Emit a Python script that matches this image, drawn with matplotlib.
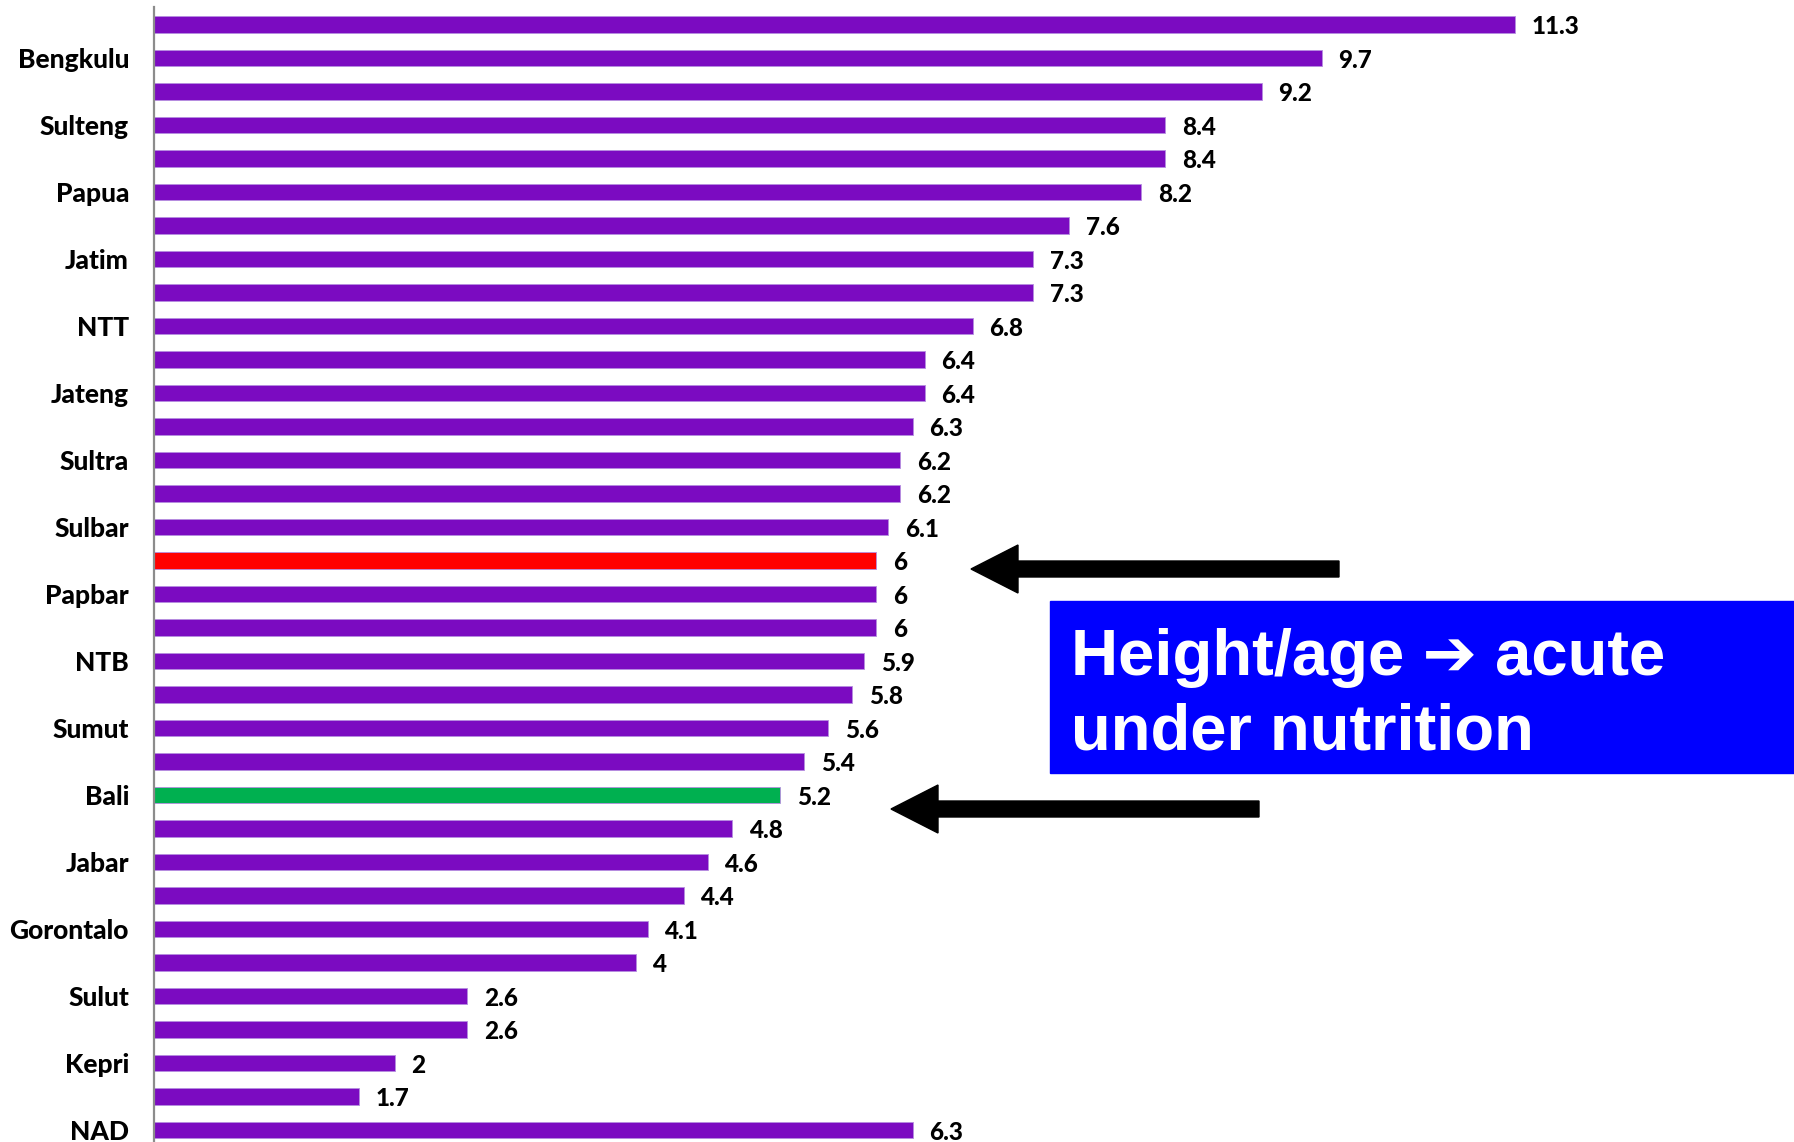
import numpy as np
import matplotlib.pyplot as plt
from matplotlib.patches import Polygon

# provinces, top to bottom (only every second label is shown on the chart)
provinces = ["", "Bengkulu", "", "Sulteng", "", "Papua", "", "Jatim", "", "NTT",
             "", "Jateng", "", "Sultra", "", "Sulbar", "", "Papbar", "", "NTB",
             "", "Sumut", "", "Bali", "", "Jabar", "", "Gorontalo", "", "Sulut",
             "", "Kepri", "", "NAD"]
values = [11.3, 9.7, 9.2, 8.4, 8.4, 8.2, 7.6, 7.3, 7.3, 6.8,
          6.4, 6.4, 6.3, 6.2, 6.2, 6.1, 6, 6, 6, 5.9,
          5.8, 5.6, 5.4, 5.2, 4.8, 4.6, 4.4, 4.1, 4, 2.6,
          2.6, 2, 1.7, 6.3]
value_labels = ["11.3", "9.7", "9.2", "8.4", "8.4", "8.2", "7.6", "7.3", "7.3", "6.8",
                "6.4", "6.4", "6.3", "6.2", "6.2", "6.1", "6", "6", "6", "5.9",
                "5.8", "5.6", "5.4", "5.2", "4.8", "4.6", "4.4", "4.1", "4", "2.6",
                "2.6", "2", "1.7", "6.3"]
highlight = {16: "#FF0000", 23: "#00B050"}
box_text = "Height/age \u2794 acute\nunder nutrition"

W, H = 1794, 1142
fig = plt.figure(figsize=(W / 100, H / 100), dpi=100)
ax = fig.add_axes([154 / W, 0, 1 - 154 / W, 1])

pos = np.arange(len(values))
colors = [highlight.get(i, "#7B0BC1") for i in pos]
bars = ax.barh(pos, values, height=0.5, color=colors, edgecolor="#B58EE0", linewidth=0.6)

ax.set_xlim(0, (W - 154) / 120.4)
ax.set_ylim((H - 24.5) / 33.5, -24.5 / 33.5)

for b, lab in zip(bars, value_labels):
    ax.annotate(lab, (b.get_width(), b.get_y() + b.get_height() / 2),
                xytext=(12, -1.5), textcoords="offset points", va="center", ha="left",
                fontsize=17.5, fontweight="black", family="Lato", color="black")

ax.set_yticks(pos)
ax.set_yticklabels(provinces, fontsize=19, fontweight="black", family="Lato")
ax.tick_params(axis="y", length=0, pad=18)
ax.set_xticks([])
for s in ["top", "right", "bottom"]:
    ax.spines[s].set_visible(False)
ax.spines["left"].set_color("#8C8C8C")
ax.spines["left"].set_linewidth(1.6)
ax.spines["left"].set_bounds((7 - 24.5) / 33.5, (H - 24.5) / 33.5)

# blue text box
fig.patches.append(plt.Rectangle((1050 / W, 1 - 773 / H), (W - 1050) / W, 172 / H,
                                 transform=fig.transFigure, color="#0000FF", zorder=5))
fig.text(1071 / W, 1 - 749 / H, box_text, color="white", fontsize=47, fontweight="bold",
         family=["Liberation Sans", "DejaVu Sans"], va="baseline", ha="left",
         linespacing=1.3, zorder=6)


def arrow(tip_x, tail_x, yc):
    pts = [(tip_x, yc), (tip_x + 47, yc - 24), (tip_x + 47, yc - 8), (tail_x, yc - 8),
           (tail_x, yc + 8), (tip_x + 47, yc + 8), (tip_x + 47, yc + 24)]
    pts = [(x / W, 1 - y / H) for x, y in pts]
    fig.patches.append(Polygon(pts, closed=True, transform=fig.transFigure,
                               color="black", zorder=5))


arrow(971, 1339, 569)
arrow(891, 1259, 809)

fig.savefig("out.png", dpi=100, facecolor="white")
